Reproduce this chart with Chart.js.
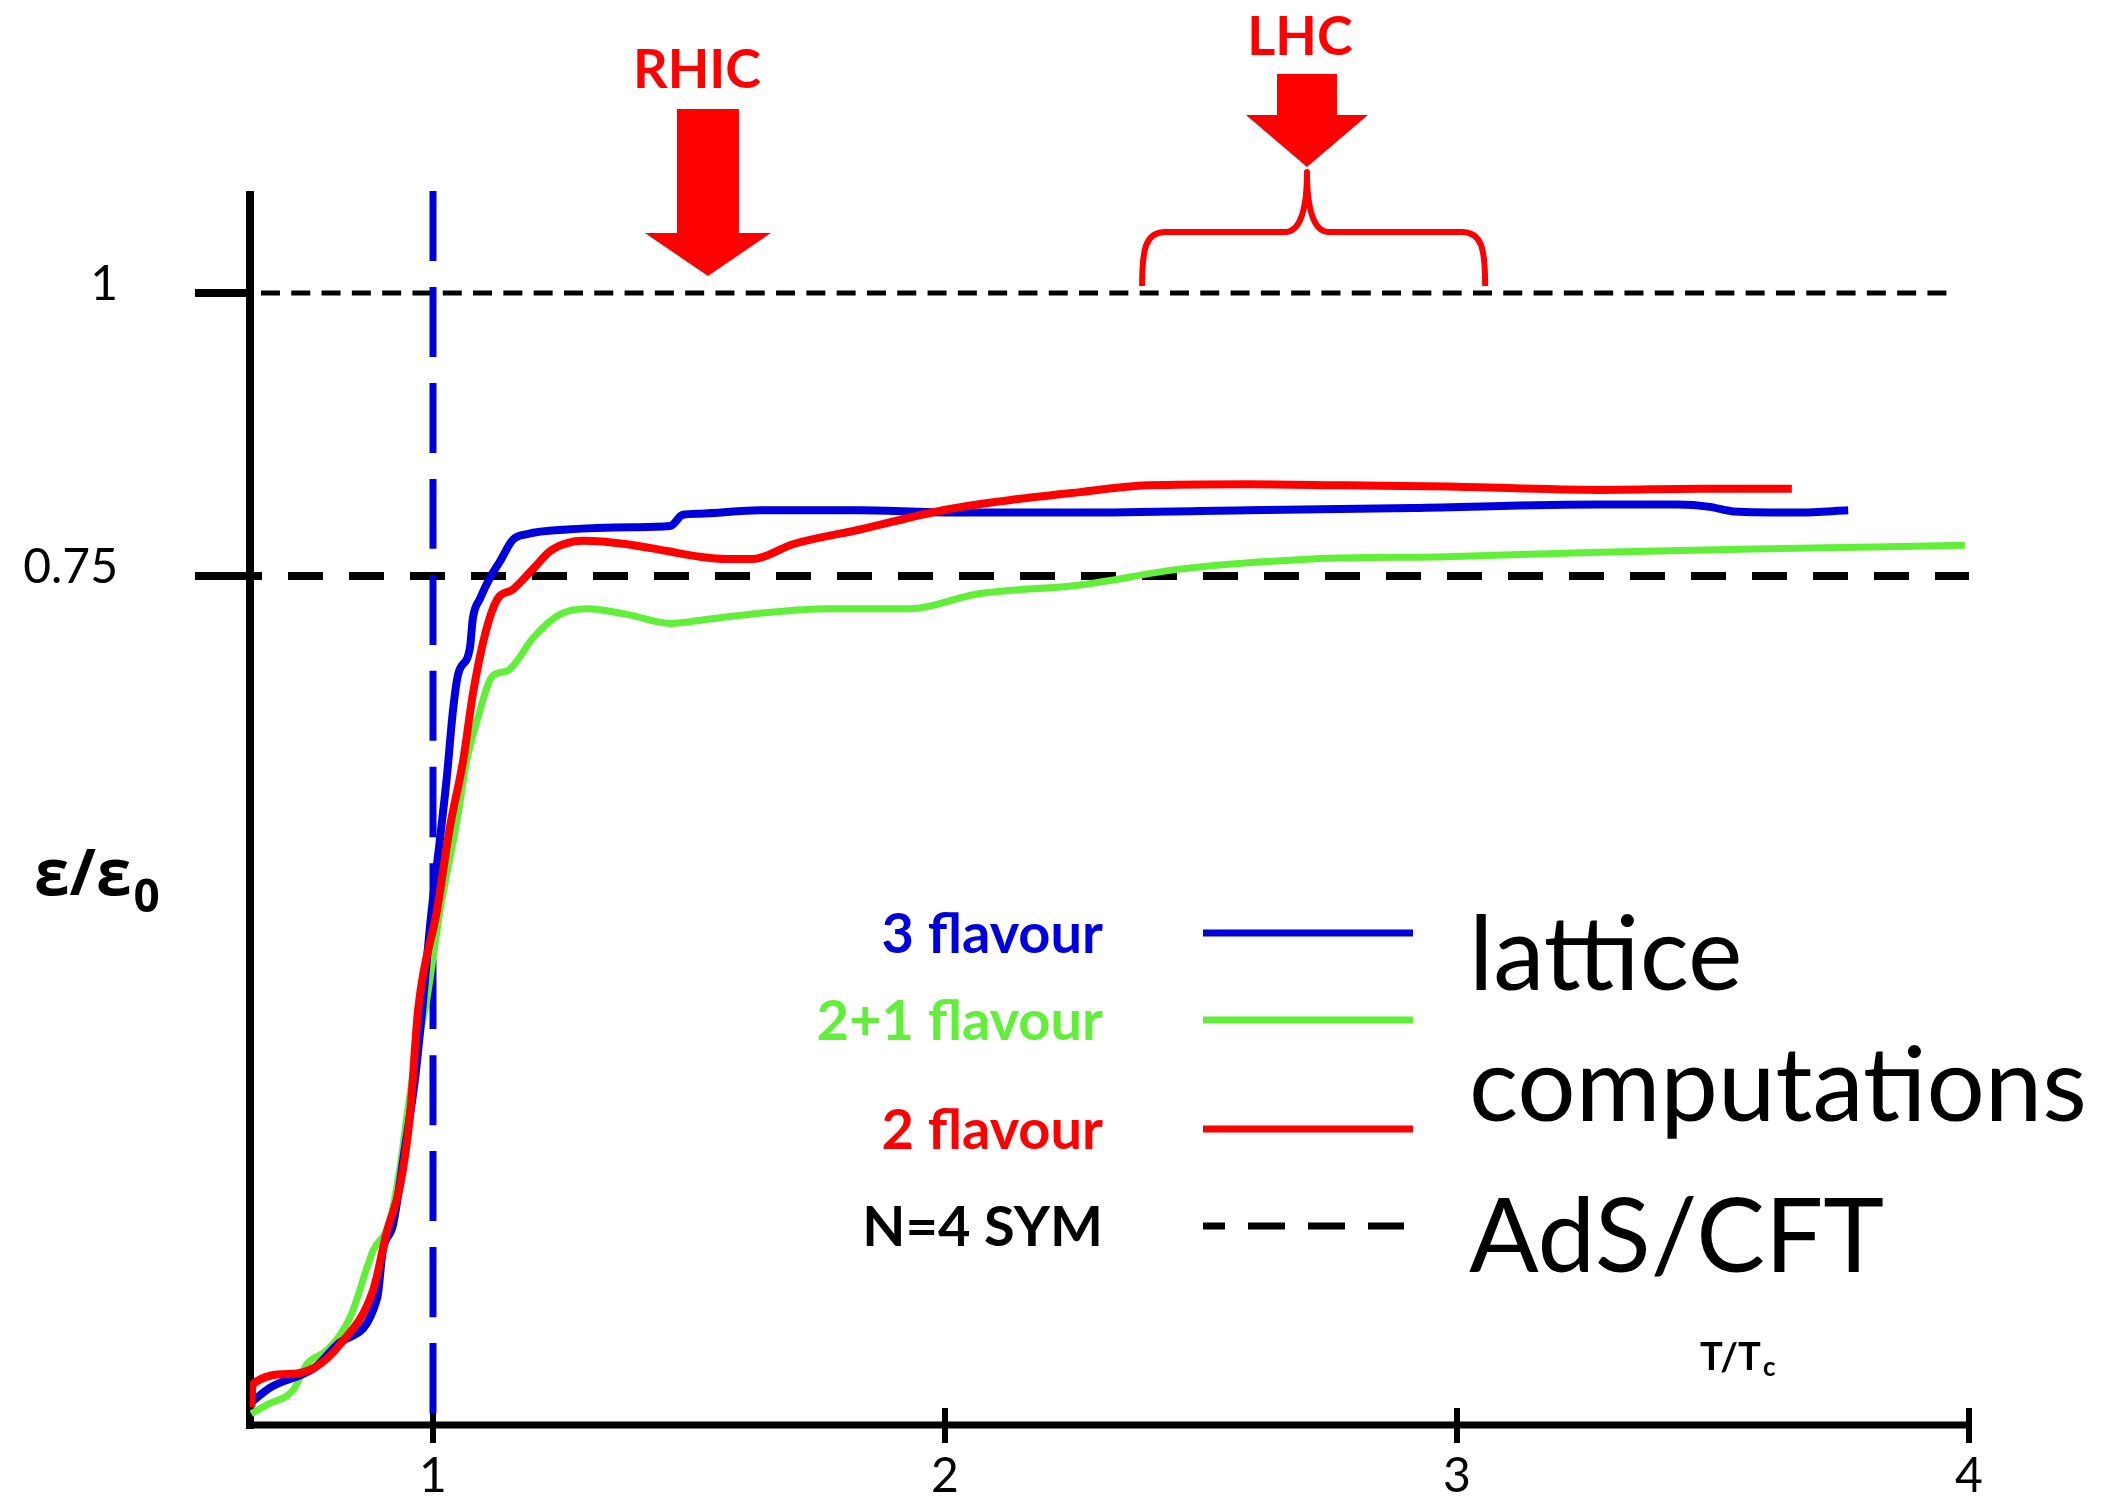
<!DOCTYPE html>
<html>
<head>
<meta charset="utf-8">
<script src="https://cdn.jsdelivr.net/npm/chart.js@4.4.0/dist/chart.umd.min.js"></script>
<style>
  html, body { margin: 0; padding: 0; background: #fff; }
  #wrap { width: 2102px; height: 1497px; }
</style>
</head>
<body>
<div id="wrap"><canvas id="chart" width="2102" height="1497"></canvas></div>
<script>
// energy density over T/Tc
const flav3T = [0.645, 0.682, 0.770, 0.818, 0.891, 0.902, 0.922, 0.945, 0.965, 0.979, 0.994, 1.014, 1.027, 1.039, 1.049, 1.072, 1.078, 1.092, 1.111, 1.131, 1.156, 1.184, 1.262, 1.391, 1.463, 1.488, 1.521, 1.639, 1.834, 2.029, 2.264, 2.590, 2.914, 3.279, 3.430, 3.494, 3.539, 3.670, 3.764];
const flav3E = [0.020, 0.033, 0.051, 0.073, 0.112, 0.154, 0.177, 0.244, 0.306, 0.367, 0.440, 0.519, 0.572, 0.631, 0.663, 0.686, 0.713, 0.730, 0.748, 0.763, 0.782, 0.787, 0.791, 0.793, 0.794, 0.804, 0.805, 0.808, 0.808, 0.806, 0.806, 0.808, 0.810, 0.813, 0.813, 0.811, 0.807, 0.806, 0.808];

const flav21T = [0.645, 0.676, 0.727, 0.754, 0.793, 0.838, 0.883, 0.916, 0.936, 0.949, 0.969, 0.988, 1.014, 1.047, 1.066, 1.086, 1.117, 1.145, 1.164, 1.195, 1.248, 1.301, 1.379, 1.463, 1.541, 1.639, 1.770, 1.932, 2.063, 2.264, 2.459, 2.719, 2.980, 3.279, 3.605, 3.992];
const flav21E = [0.010, 0.018, 0.031, 0.054, 0.066, 0.095, 0.154, 0.180, 0.229, 0.273, 0.332, 0.376, 0.455, 0.534, 0.587, 0.622, 0.662, 0.666, 0.675, 0.695, 0.716, 0.721, 0.716, 0.708, 0.712, 0.717, 0.721, 0.721, 0.734, 0.742, 0.756, 0.765, 0.767, 0.771, 0.774, 0.777];

const flav2T = [0.645, 0.648, 0.721, 0.770, 0.818, 0.883, 0.910, 0.936, 0.955, 0.971, 1.008, 1.033, 1.059, 1.078, 1.102, 1.125, 1.156, 1.195, 1.229, 1.262, 1.293, 1.379, 1.457, 1.521, 1.574, 1.625, 1.703, 1.834, 1.996, 2.094, 2.264, 2.395, 2.590, 2.785, 2.980, 3.279, 3.475, 3.654];
const flav2E = [0.016, 0.036, 0.045, 0.051, 0.071, 0.119, 0.171, 0.212, 0.273, 0.367, 0.455, 0.528, 0.587, 0.646, 0.699, 0.729, 0.738, 0.756, 0.772, 0.779, 0.781, 0.778, 0.772, 0.767, 0.765, 0.765, 0.778, 0.791, 0.808, 0.815, 0.824, 0.830, 0.831, 0.830, 0.829, 0.826, 0.827, 0.827];

// N=4 SYM (AdS/CFT), free gas limit, and T = Tc
const symT = [0.6426, 4];
const symE = [0.75, 0.75];
const freeT = [0.664, 3.977];
const freeE = [1, 1];
const tcT = [1, 1];
const tcE = [1.09, 0];

const xTicks = [1, 2, 3, 4];
const yTicks = [0.75, 1];
const yTickLabels = ['0.75', '1'];

const seriesLabels = ['3 flavour', '2+1 flavour', '2 flavour', 'N=4 SYM'];
const groupLabels = ['lattice', 'computations', 'AdS/CFT'];

// collider temperatures
const rhicT = 1.537;
const lhcT = 2.707;
const lhcRange = [2.385, 3.055];

const BLUE = '#0000dd';
const GREEN = '#62ef3a';
const RED = '#ff0000';

function pts(xs, ys) {
  return xs.map((v, i) => ({ x: v, y: ys[i] }));
}

function line(ctx, x1, y1, x2, y2) {
  ctx.beginPath();
  ctx.moveTo(x1, y1);
  ctx.lineTo(x2, y2);
  ctx.stroke();
}

function drawArrow(ctx, cx, top, headTop, tip, shaftHalf, headHalf) {
  ctx.beginPath();
  ctx.moveTo(cx - shaftHalf, top);
  ctx.lineTo(cx + shaftHalf, top);
  ctx.lineTo(cx + shaftHalf, headTop);
  ctx.lineTo(cx + headHalf, headTop);
  ctx.lineTo(cx, tip);
  ctx.lineTo(cx - headHalf, headTop);
  ctx.lineTo(cx - shaftHalf, headTop);
  ctx.closePath();
  ctx.fill();
}

// axes, ticks and all the text around the plot
const decor = {
  id: 'decor',
  beforeDatasetsDraw(chart) {
    const { ctx, chartArea: a, scales: { x, y } } = chart;
    ctx.save();
    ctx.strokeStyle = '#000';
    ctx.lineCap = 'butt';

    ctx.lineWidth = 8;
    line(ctx, a.left, a.top, a.left, a.bottom + 4);
    ctx.lineWidth = 7;
    line(ctx, a.left - 4, a.bottom, a.right, a.bottom);

    ctx.lineWidth = 6;
    xTicks.forEach(v => {
      const px = x.getPixelForValue(v);
      line(ctx, px, a.bottom - 17, px, a.bottom + 18);
    });

    ctx.lineWidth = 8;
    yTicks.forEach(v => {
      const py = y.getPixelForValue(v);
      line(ctx, a.left - 55, py, a.left, py);
    });
    ctx.restore();
  },
  afterDraw(chart) {
    const { ctx, chartArea: a, scales: { x, y } } = chart;
    ctx.save();
    ctx.fillStyle = '#000';
    ctx.textBaseline = 'alphabetic';

    // tick labels
    ctx.font = '48px Lato';
    ctx.textAlign = 'center';
    xTicks.forEach(v => ctx.fillText(String(v), x.getPixelForValue(v), 1492));
    ctx.textAlign = 'right';
    yTicks.forEach((v, i) => ctx.fillText(yTickLabels[i], a.left - 132, y.getPixelForValue(v) + 7));

    // axis titles
    ctx.textAlign = 'left';
    ctx.font = 'bold 64px "Open Sans"';
    ctx.fillText('ε/ε', 34, 895);
    const w = ctx.measureText('ε/ε').width;
    ctx.font = 'bold 46px "Open Sans"';
    ctx.fillText('0', 34 + w + 2, 912);

    ctx.font = 'bold 38px Lato';
    ctx.fillText('T/T', 1700, 1370);
    const wt = ctx.measureText('T/T').width;
    ctx.font = 'bold 26px Lato';
    ctx.fillText('c', 1700 + wt + 2, 1376);

    // legend
    const rows = [
      { label: seriesLabels[0], color: BLUE, y: 933 },
      { label: seriesLabels[1], color: GREEN, y: 1020 },
      { label: seriesLabels[2], color: RED, y: 1129 },
      { label: seriesLabels[3], color: '#000', y: 1226, dash: true }
    ];
    ctx.font = 'bold 56px Lato';
    rows.forEach(r => {
      ctx.textAlign = 'right';
      ctx.fillStyle = r.color;
      ctx.fillText(r.label, 1103, r.y + 20);
      ctx.strokeStyle = r.color;
      ctx.lineWidth = 7;
      if (r.dash) {
        ctx.setLineDash([37, 23]);
        ctx.lineDashOffset = 15;
        line(ctx, 1203, r.y, 1404, r.y);
        ctx.setLineDash([]);
      } else {
        line(ctx, 1203, r.y, 1413, r.y);
      }
    });

    ctx.fillStyle = '#000';
    ctx.textAlign = 'left';
    ctx.font = '103px Lato';
    ctx.fillText(groupLabels[0], 1469, 990);
    ctx.fillText(groupLabels[1], 1469, 1121);
    ctx.fillText(groupLabels[2], 1469, 1272);

    // RHIC / LHC markers
    ctx.fillStyle = RED;
    ctx.strokeStyle = RED;
    const rx = x.getPixelForValue(rhicT);
    drawArrow(ctx, rx, 109, 233, 276, 31, 63);
    ctx.textAlign = 'center';
    ctx.font = 'bold 54px Lato';
    ctx.fillText('RHIC', rx - 11, 88);

    const lx = x.getPixelForValue(lhcT);
    drawArrow(ctx, lx, 74, 115, 167, 30, 61);
    ctx.fillText('LHC', lx - 7, 55);

    const bl = x.getPixelForValue(lhcRange[0]);
    const br = x.getPixelForValue(lhcRange[1]);
    const yb = y.getPixelForValue(1) - 7;
    const ybar = yb - 54;
    const ycusp = yb - 114;
    ctx.lineWidth = 6;
    ctx.lineJoin = 'round';
    ctx.beginPath();
    ctx.moveTo(bl, yb);
    ctx.bezierCurveTo(bl, yb - 36, bl + 3, ybar, bl + 23, ybar);
    ctx.lineTo(lx - 22, ybar);
    ctx.bezierCurveTo(lx - 7, ybar, lx, ybar - 22, lx, ycusp);
    ctx.bezierCurveTo(lx, ybar - 22, lx + 7, ybar, lx + 22, ybar);
    ctx.lineTo(br - 23, ybar);
    ctx.bezierCurveTo(br - 3, ybar, br, yb - 36, br, yb);
    ctx.stroke();

    ctx.restore();
  }
};

const datasets = [
  { label: seriesLabels[2], data: pts(flav2T, flav2E), borderColor: RED, borderWidth: 8, order: 1 },
  { label: seriesLabels[0], data: pts(flav3T, flav3E), borderColor: BLUE, borderWidth: 8, order: 2 },
  { label: seriesLabels[1], data: pts(flav21T, flav21E), borderColor: GREEN, borderWidth: 7, order: 3 },
  { label: 'Tc', data: pts(tcT, tcE), borderColor: BLUE, borderWidth: 7, borderDash: [70, 26], order: 4 },
  { label: seriesLabels[3], data: pts(symT, symE), borderColor: '#000', borderWidth: 8, borderDash: [35, 26], borderDashOffset: 23, order: 5 },
  { label: 'free gas', data: pts(freeT, freeE), borderColor: '#000', borderWidth: 5, borderDash: [19, 11.3], order: 6 }
];

datasets.forEach(d => {
  d.pointRadius = 0;
  d.pointHoverRadius = 0;
  d.fill = false;
  d.cubicInterpolationMode = 'monotone';
  d.borderCapStyle = 'butt';
  d.borderJoinStyle = 'round';
});

new Chart(document.getElementById('chart'), {
  type: 'line',
  data: { datasets: datasets },
  options: {
    responsive: false,
    devicePixelRatio: 1,
    animation: false,
    layout: { padding: { left: 250, right: 133, top: 191, bottom: 72 } },
    scales: {
      x: { type: 'linear', min: 0.6426, max: 4, display: false },
      y: { type: 'linear', min: 0, max: 1.09, display: false }
    },
    plugins: {
      legend: { display: false },
      tooltip: { enabled: false }
    }
  },
  plugins: [decor]
});
</script>
</body>
</html>
